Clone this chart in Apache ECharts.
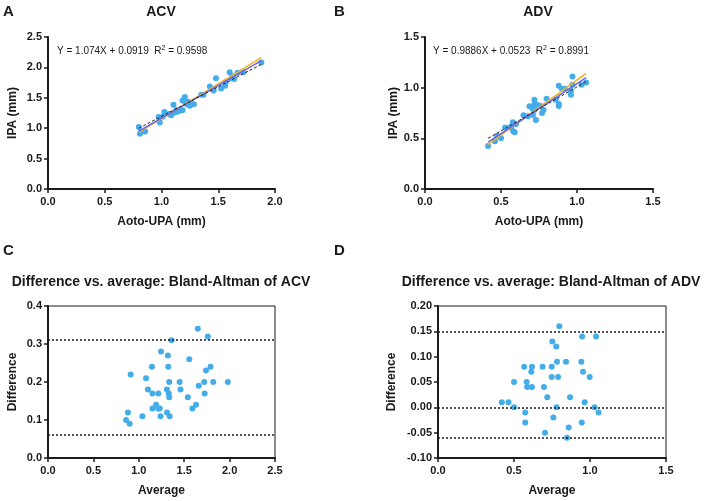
<!DOCTYPE html>
<html>
<head>
<meta charset="utf-8">
<script src="https://cdn.jsdelivr.net/npm/echarts@6/dist/echarts.min.js"></script>
<style>
  html, body { margin: 0; padding: 0; background: #fff; }
  #chart { width: 708px; height: 501px; }
</style>
</head>
<body>
<div id="chart"></div>
<script>
// A: ACV, Aoto-UPA vs IPA
const acvUpa = [0.81, 0.82, 0.855, 0.80, 0.985, 0.975, 1.01, 1.025, 1.065, 1.085, 1.12, 1.13, 1.15, 1.165, 1.185, 1.105, 1.22, 1.25, 1.185, 1.205,
  1.245, 1.235, 1.255, 1.285, 1.205, 1.35, 1.37, 1.46, 1.426, 1.525, 1.56, 1.48, 1.565, 1.62, 1.64, 1.625, 1.60, 1.67, 1.72, 1.88];
const acvIpa = [0.91, 0.94, 0.945, 1.02, 1.095, 1.185, 1.19, 1.265, 1.235, 1.215, 1.26, 1.30, 1.28, 1.295, 1.295, 1.385, 1.40, 1.37, 1.455, 1.445,
  1.415, 1.435, 1.415, 1.395, 1.515, 1.55, 1.55, 1.62, 1.686, 1.655, 1.70, 1.82, 1.755, 1.82, 1.81, 1.855, 1.92, 1.91, 1.92, 2.08];
const acvFitX = [0.80, 1.88];
const acvFitY = [0.951, 2.111];
const acvFit2Y = [0.93, 2.16];
const acvDashY = [1.00, 2.05];

// B: ADV
const advUpa = [0.415, 0.46, 0.475, 0.50, 0.527, 0.58, 0.59, 0.56, 0.567, 0.58, 0.578, 0.598, 0.648, 0.677, 0.73, 0.71, 0.71, 0.72, 0.687,
  0.77, 0.72, 0.78, 0.74, 0.76, 0.72, 0.80, 0.88, 0.88, 0.86, 0.90, 0.96, 0.88, 0.92, 0.96, 0.97, 1.03, 0.97, 1.06];
const advIpa = [0.425, 0.47, 0.525, 0.50, 0.607, 0.57, 0.56, 0.61, 0.607, 0.65, 0.658, 0.638, 0.728, 0.717, 0.68, 0.73, 0.79, 0.78, 0.817,
  0.75, 0.84, 0.78, 0.83, 0.82, 0.88, 0.89, 0.82, 0.84, 0.88, 0.99, 0.93, 1.02, 0.99, 0.97, 1.03, 1.03, 1.11, 1.05];
const advFitX = [0.415, 1.06];
const advFitY = [0.463, 1.100];
const advFit2Y = [0.44, 1.14];
const advDashY = [0.50, 1.06];

// C: Bland-Altman ACV
const acvAvg = [0.86, 0.88, 0.90, 0.91, 1.04, 1.08, 1.10, 1.145, 1.15, 1.15, 1.19, 1.215, 1.215, 1.23, 1.24, 1.245, 1.31, 1.31, 1.32, 1.325,
  1.33, 1.335, 1.335, 1.34, 1.36, 1.45, 1.46, 1.54, 1.556, 1.59, 1.63, 1.65, 1.66, 1.72, 1.725, 1.74, 1.76, 1.79, 1.82, 1.98];
const acvDiff = [0.10, 0.12, 0.09, 0.22, 0.11, 0.21, 0.18, 0.24, 0.17, 0.13, 0.14, 0.17, 0.13, 0.13, 0.11, 0.28, 0.18, 0.12, 0.27, 0.24,
  0.17, 0.20, 0.16, 0.11, 0.31, 0.20, 0.18, 0.16, 0.26, 0.13, 0.14, 0.34, 0.19, 0.20, 0.17, 0.23, 0.32, 0.24, 0.20, 0.20];
const acvLimits = [0.31, 0.064];

// D: Bland-Altman ADV
const advAvg = [0.42, 0.464, 0.50, 0.50, 0.567, 0.574, 0.574, 0.583, 0.587, 0.614, 0.618, 0.618, 0.688, 0.697, 0.704, 0.719, 0.748, 0.748,
  0.752, 0.759, 0.778, 0.78, 0.783, 0.79, 0.798, 0.842, 0.849, 0.86, 0.869, 0.943, 0.946, 0.948, 0.954, 0.965, 0.998, 1.029, 1.04, 1.056];
const advDiff = [0.01, 0.01, 0.05, 0.00, 0.08, -0.01, -0.03, 0.05, 0.04, 0.07, 0.08, 0.04, 0.08, 0.04, -0.05, 0.02, 0.08, 0.06,
  0.13, -0.02, 0.12, 0.00, 0.09, 0.06, 0.16, 0.09, -0.06, -0.04, 0.02, 0.09, -0.03, 0.14, 0.07, 0.01, 0.06, 0.00, 0.14, -0.01];
const advLimits = [0.152, 0.001, -0.063];

const FONT = 'Liberation Sans, Arial, sans-serif';
const INK = '#1a1a1a';
const DOT = '#45acea';

const zip = (a, b) => a.map((v, i) => [v, b[i]]);

function axisX(idx, max, name) {
  return {
    type: 'value', gridIndex: idx, min: 0, max: max, interval: 0.5,
    name: name, nameLocation: 'middle', nameGap: 27,
    nameTextStyle: { fontFamily: FONT, fontWeight: 'bold', fontSize: 12, color: INK },
    axisLine: { show: true, onZero: false, lineStyle: { color: INK, width: 2 } },
    axisTick: { show: true, length: 4, lineStyle: { color: INK, width: 1.5 } },
    axisLabel: { margin: 7, fontFamily: FONT, fontWeight: 'bold', fontSize: 11, color: INK,
      formatter: v => v.toFixed(1) },
    splitLine: { show: false }
  };
}

function axisY(idx, min, max, interval, name, gap, digits) {
  return {
    type: 'value', gridIndex: idx, min: min, max: max, interval: interval,
    name: name, nameLocation: 'middle', nameGap: gap,
    nameTextStyle: { fontFamily: FONT, fontWeight: 'bold', fontSize: 12, color: INK },
    axisLine: { show: true, onZero: false, lineStyle: { color: INK, width: 2 } },
    axisTick: { show: true, length: 4, lineStyle: { color: INK, width: 1.5 } },
    axisLabel: { margin: 6, fontFamily: FONT, fontWeight: 'bold', fontSize: 11, color: INK,
      formatter: v => v.toFixed(digits) },
    splitLine: { show: false }
  };
}

function fitLine(idx, xs, ys, color, type, width) {
  return {
    type: 'line', xAxisIndex: idx, yAxisIndex: idx, data: zip(xs, ys),
    symbol: 'none', silent: true, z: 3,
    lineStyle: { color: color, type: type, width: width }
  };
}

function scatter(idx, xs, ys, limits) {
  const s = {
    type: 'scatter', xAxisIndex: idx, yAxisIndex: idx, data: zip(xs, ys),
    symbolSize: 6, itemStyle: { color: DOT, opacity: 1 }, z: 2
  };
  if (limits) {
    s.markLine = {
      silent: true, symbol: 'none', label: { show: false },
      lineStyle: { color: INK, type: [2, 2], width: 1.5 },
      data: limits.map(v => ({ yAxis: v }))
    };
  }
  return s;
}

function label(text, left, top, size, align) {
  return {
    text: text, left: left, top: top, padding: 0, textAlign: align || 'left',
    textStyle: { fontFamily: FONT, fontWeight: 'bold', fontSize: size, color: INK }
  };
}

function equation(left, top, a, b, r2) {
  return {
    text: '{t|Y = ' + a + 'X + ' + b + '  R}{s|2}{t| = ' + r2 + '}',
    left: left, top: top, padding: 0,
    textStyle: {
      fontWeight: 'normal',
      rich: {
        t: { fontFamily: FONT, fontWeight: 'normal', fontSize: 10, color: INK },
        s: { fontFamily: FONT, fontWeight: 'normal', fontSize: 7, color: INK, verticalAlign: 'top', padding: [0, 0, 6, 0] }
      }
    }
  };
}

const chart = echarts.init(document.getElementById('chart'), null, { renderer: 'canvas' });

chart.setOption({
  animation: false,
  backgroundColor: '#fff',
  title: [
    label('A', 3, 4, 15),
    label('B', 334, 4, 15),
    label('C', 3, 243, 15),
    label('D', 334, 243, 15),
    label('ACV', 161, 5, 14, 'center'),
    label('ADV', 538, 5, 14, 'center'),
    label('Difference vs. average: Bland-Altman of ACV', 161, 275, 14, 'center'),
    label('Difference vs. average: Bland-Altman of ADV', 551, 275, 14, 'center'),
    equation(57, 45, '1.074', '0.0919', '0.9598'),
    equation(433, 45, '0.9886', '0.0523', '0.8991')
  ],
  grid: [
    { left: 48, top: 37, width: 227, height: 152 },
    { left: 425, top: 37, width: 228, height: 152 },
    { left: 48, top: 306, width: 227, height: 152, show: true, borderColor: INK, borderWidth: 1 },
    { left: 438, top: 306, width: 228, height: 152, show: true, borderColor: INK, borderWidth: 1 }
  ],
  xAxis: [
    axisX(0, 2.0, 'Aoto-UPA (mm)'),
    axisX(1, 1.5, 'Aoto-UPA (mm)'),
    axisX(2, 2.5, 'Average'),
    axisX(3, 1.5, 'Average')
  ],
  yAxis: [
    axisY(0, 0, 2.5, 0.5, 'IPA (mm)', 29, 1),
    axisY(1, 0, 1.5, 0.5, 'IPA (mm)', 24, 1),
    axisY(2, 0, 0.4, 0.1, 'Difference', 29, 1),
    axisY(3, -0.10, 0.20, 0.05, 'Difference', 40, 2)
  ],
  series: [
    scatter(0, acvUpa, acvIpa),
    fitLine(0, acvFitX, acvFit2Y, '#f2b31b', 'solid', 1.5),
    fitLine(0, acvFitX, acvFitY, '#6c63e8', 'solid', 1.5),
    fitLine(0, acvFitX, acvDashY, '#222', [3, 2], 1),
    scatter(1, advUpa, advIpa),
    fitLine(1, advFitX, advFit2Y, '#f2b31b', 'solid', 1.5),
    fitLine(1, advFitX, advFitY, '#6c63e8', 'solid', 1.5),
    fitLine(1, advFitX, advDashY, '#222', [3, 2], 1),
    scatter(2, acvAvg, acvDiff, acvLimits),
    scatter(3, advAvg, advDiff, advLimits)
  ]
});
</script>
</body>
</html>
